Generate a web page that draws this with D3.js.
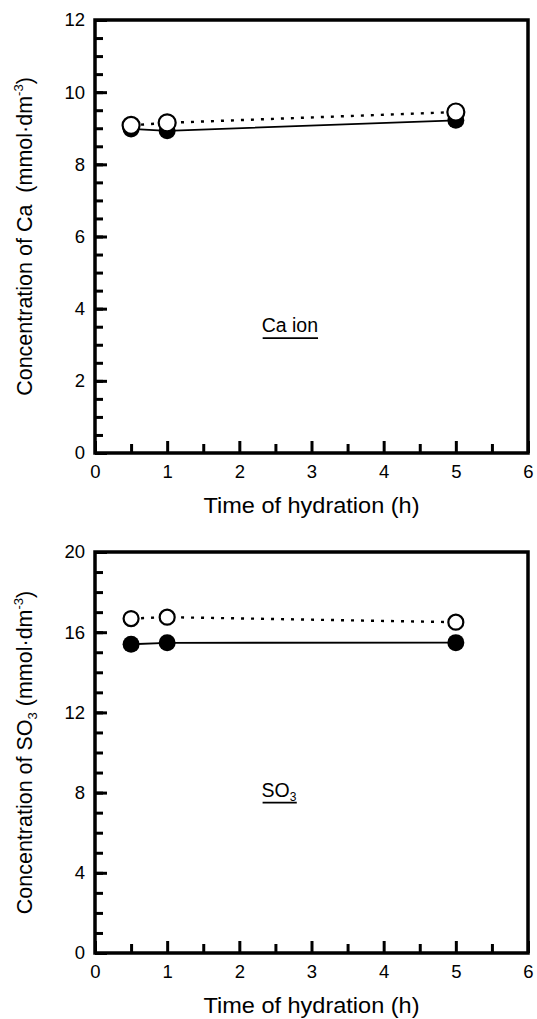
<!DOCTYPE html>
<html>
<head>
<meta charset="utf-8">
<script src="https://cdn.jsdelivr.net/npm/d3@7"></script>
<style>
  html, body { margin: 0; padding: 0; background: #fff; }
  svg { display: block; font-family: "Liberation Sans", Arial, sans-serif; }
  text { white-space: pre; }
</style>
</head>
<body>
<svg id="chart" width="537" height="1019"></svg>
<script>
// ---- data ----
const hours = [0.5, 1, 5];
const caFilled = [8.98, 8.93, 9.22];
const caOpen = [9.08, 9.15, 9.45];
const so3Filled = [15.40, 15.47, 15.48];
const so3Open = [16.68, 16.75, 16.50];
const xTicks = [0, 1, 2, 3, 4, 5, 6];
const xMinorTicks = [0.5, 1.5, 2.5, 3.5, 4.5, 5.5];
const caYTicks = [0, 2, 4, 6, 8, 10, 12];
const so3YTicks = [0, 4, 8, 12, 16, 20];
const xTitle = "Time of hydration (h)";

const svg = d3.select("#chart");

function panel(opt) {
  const left = 95, right = 528;
  const top = opt.top, bottom = opt.bottom;
  const x = d3.scaleLinear().domain([0, 6]).range([left, right]);
  const y = d3.scaleLinear().domain([0, opt.yMax]).range([bottom, top]);
  const g = svg.append("g");
  const fam = "Liberation Sans, Arial, sans-serif";

  // minor y ticks
  g.append("g").attr("transform", `translate(${left},0)`)
    .call(d3.axisLeft(y).tickValues(d3.range(0, opt.yMax + 1e-9, opt.yMinor)).tickFormat("")
      .tickSizeInner(-8).tickSizeOuter(0))
    .call(s => s.select(".domain").remove())
    .call(s => s.selectAll("line").attr("stroke-width", 3));
  // major y ticks
  g.append("g").attr("transform", `translate(${left},0)`)
    .call(d3.axisLeft(y).tickValues(opt.yTicks).tickFormat(d3.format("d"))
      .tickSizeInner(-12).tickSizeOuter(0).tickPadding(10))
    .call(s => s.select(".domain").remove())
    .call(s => s.selectAll("line").attr("stroke-width", 3))
    .call(s => s.selectAll("text").attr("font-size", 18.5).attr("font-family", fam).attr("fill", "#000"));
  // minor x ticks
  g.append("g").attr("transform", `translate(0,${bottom})`)
    .call(d3.axisBottom(x).tickValues(xMinorTicks).tickFormat("")
      .tickSizeInner(-9).tickSizeOuter(0))
    .call(s => s.select(".domain").remove())
    .call(s => s.selectAll("line").attr("stroke-width", 3));
  // major x ticks
  g.append("g").attr("transform", `translate(0,${bottom})`)
    .call(d3.axisBottom(x).tickValues(xTicks).tickFormat(d3.format("d"))
      .tickSizeInner(-12).tickSizeOuter(0).tickPadding(12))
    .call(s => s.select(".domain").remove())
    .call(s => s.selectAll("line").attr("stroke-width", 3))
    .call(s => s.selectAll("text").attr("font-size", 18.5).attr("font-family", fam).attr("fill", "#000"));

  // frame
  g.append("rect").attr("x", left).attr("y", top)
    .attr("width", right - left).attr("height", bottom - top)
    .attr("fill", "none").attr("stroke", "#000").attr("stroke-width", 3.5);

  const filled = hours.map((h, i) => ({ x: h, y: opt.filled[i] }));
  const open = hours.map((h, i) => ({ x: h, y: opt.open[i] }));
  const line = d3.line().x(d => x(d.x)).y(d => y(d.y));

  g.append("path").datum(filled).attr("d", line)
    .attr("fill", "none").attr("stroke", "#000").attr("stroke-width", 1.8);
  g.append("path").datum(open).attr("d", line)
    .attr("fill", "none").attr("stroke", "#000").attr("stroke-width", 2.4)
    .attr("stroke-dasharray", "3,7");

  g.selectAll(".f").data(filled).enter().append("circle")
    .attr("cx", d => x(d.x)).attr("cy", d => y(d.y)).attr("r", opt.rFilled)
    .attr("fill", "#000");
  g.selectAll(".o").data(open).enter().append("circle")
    .attr("cx", d => x(d.x)).attr("cy", d => y(d.y)).attr("r", opt.rOpen)
    .attr("fill", "#fff").attr("stroke", "#000").attr("stroke-width", 2.2);

  // annotation (underlined)
  const ann = g.append("text").attr("x", x(opt.annX)).attr("y", y(opt.annY))
    .attr("font-size", 19.5).attr("text-anchor", "middle");
  opt.annParts.forEach(p => {
    const t = ann.append("tspan").text(p.t);
    if (p.sub) t.attr("font-size", 12).attr("dy", 4);
  });
  const bb = ann.node().getBBox();
  g.append("line").attr("x1", bb.x + 1).attr("x2", bb.x + bb.width)
    .attr("y1", y(opt.annY) + 6).attr("y2", y(opt.annY) + 6)
    .attr("stroke", "#000").attr("stroke-width", 1.6);

  // x title
  g.append("text").attr("x", (left + right) / 2).attr("y", bottom + 60)
    .attr("text-anchor", "middle").attr("font-size", 22)
    .attr("textLength", 216).attr("lengthAdjust", "spacingAndGlyphs")
    .text(xTitle);

  // y title
  const yt = g.append("text")
    .attr("transform", `translate(32,${(top + bottom) / 2}) rotate(-90)`)
    .attr("text-anchor", "middle").attr("font-size", 21.5);
  opt.yTitle.forEach(p => {
    const t = yt.append("tspan").text(p.t);
    if (p.sup) t.attr("font-size", 13).attr("dy", -9);
    if (p.sub) t.attr("font-size", 13).attr("dy", 5);
    if (p.reset) t.attr("dy", p.reset);
  });
}

panel({
  top: 20, bottom: 453, yMax: 12, yMinor: 0.5, yTicks: caYTicks,
  filled: caFilled, open: caOpen, rFilled: 8.5, rOpen: 8.5,
  annX: 2.7, annY: 3.35, annParts: [{ t: "Ca ion" }],
  yTitle: [{ t: "Concentration of Ca  (mmol·dm" }, { t: "-3", sup: true }, { t: ")", reset: 9 }]
});

panel({
  top: 552, bottom: 953, yMax: 20, yMinor: 1, yTicks: so3YTicks,
  filled: so3Filled, open: so3Open, rFilled: 8.5, rOpen: 7.5,
  annX: 2.55, annY: 7.8, annParts: [{ t: "SO" }, { t: "3", sub: true }],
  yTitle: [{ t: "Concentration of SO" }, { t: "3", sub: true }, { t: " (mmol·dm", reset: -5 },
           { t: "-3", sup: true }, { t: ")", reset: 9 }]
});
</script>
</body>
</html>
